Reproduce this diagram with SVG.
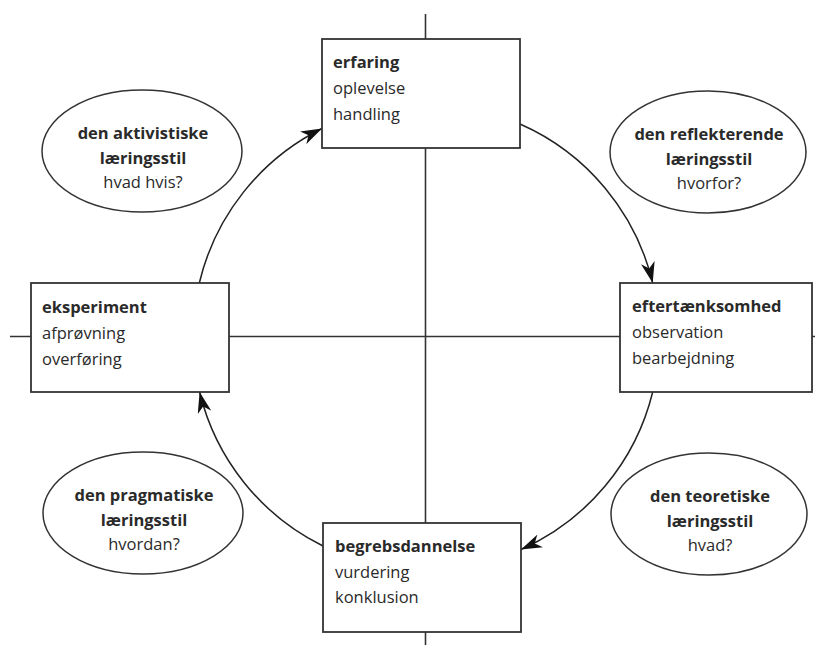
<svg xmlns="http://www.w3.org/2000/svg" width="815" height="651" viewBox="0 0 815 651">
<style>
.box{fill:#fff;stroke:#333;stroke-width:1.8}
.ell{fill:#fff;stroke:#333;stroke-width:1.5}
.ax{stroke:#333;stroke-width:1.6;fill:none}
.arc{stroke:#222;stroke-width:1.5;fill:none;marker-end:url(#ah)}
text{font-family:"Open Sans","Liberation Sans",sans-serif;font-size:16.5px;fill:#2a2a2a}
.b{font-weight:bold}
.c{text-anchor:middle}
</style>
<defs>
<marker id="ah" markerUnits="userSpaceOnUse" markerWidth="22" markerHeight="14" refX="21" refY="7" orient="auto" viewBox="0 0 22 14">
<path d="M0,0 L21,7 L0,14 L6,7 z" fill="#111"/>
</marker>
</defs>
<rect width="815" height="651" fill="#fff"/>
<g id="connectors">
<line class="ax" x1="425.5" y1="14" x2="425.5" y2="645"/>
<line class="ax" x1="10" y1="336.5" x2="815" y2="336.5"/>
<path class="arc" d="M199.3,283 A233,233 0 0 1 322,128.5"/>
<path class="arc" d="M520,124 A233,233 0 0 1 652.7,283"/>
<path class="arc" d="M652.7,392 A233,233 0 0 1 521,549.5"/>
<path class="arc" d="M323,546 A233,233 0 0 1 199.6,392"/>
</g>
<g id="erfaring">
<rect class="box" x="322" y="39" width="198" height="109"/>
<text x="333" y="68" class="b">erfaring</text>
<text x="333" y="94">oplevelse</text>
<text x="333" y="120">handling</text>
</g>
<g id="eksperiment">
<rect class="box" x="31" y="283" width="198" height="109"/>
<text x="42" y="313" class="b">eksperiment</text>
<text x="42" y="339">afprøvning</text>
<text x="42" y="365">overføring</text>
</g>
<g id="eftertaenksomhed">
<rect class="box" x="620" y="283" width="192" height="109"/>
<text x="632" y="312" class="b">eftertænksomhed</text>
<text x="632" y="338">observation</text>
<text x="632" y="364">bearbejdning</text>
</g>
<g id="begrebsdannelse">
<rect class="box" x="323" y="523" width="198" height="109"/>
<text x="335" y="552" class="b">begrebsdannelse</text>
<text x="335" y="578">vurdering</text>
<text x="335" y="603">konklusion</text>
</g>
<g id="aktivistiske">
<ellipse class="ell" cx="142" cy="151" rx="100" ry="61"/>
<text x="143" y="139" class="b c">den aktivistiske</text>
<text x="143" y="164" class="b c">læringsstil</text>
<text x="143" y="188" class="c">hvad hvis?</text>
</g>
<g id="reflekterende">
<ellipse class="ell" cx="708" cy="152" rx="98" ry="61"/>
<text x="709" y="140" class="b c">den reflekterende</text>
<text x="709" y="165" class="b c">læringsstil</text>
<text x="709" y="189" class="c">hvorfor?</text>
</g>
<g id="pragmatiske">
<ellipse class="ell" cx="143" cy="513" rx="100" ry="61"/>
<text x="144" y="501" class="b c">den pragmatiske</text>
<text x="144" y="526" class="b c">læringsstil</text>
<text x="144" y="550" class="c">hvordan?</text>
</g>
<g id="teoretiske">
<ellipse class="ell" cx="709" cy="514" rx="98" ry="61"/>
<text x="710" y="502" class="b c">den teoretiske</text>
<text x="710" y="527" class="b c">læringsstil</text>
<text x="710" y="551" class="c">hvad?</text>
</g>
</svg>
